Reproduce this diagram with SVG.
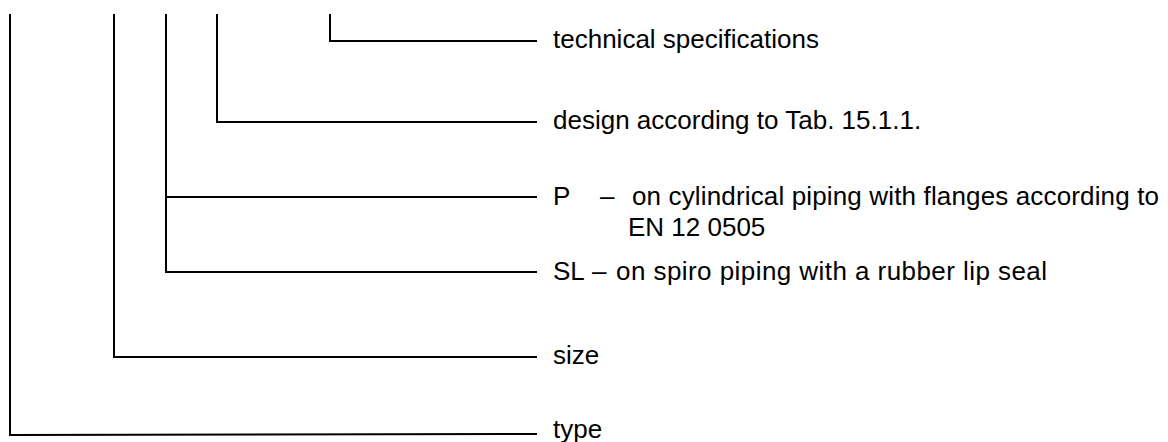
<svg xmlns="http://www.w3.org/2000/svg" width="1168" height="442" viewBox="0 0 1168 442">
<style>
.c{fill:none;stroke:#000;stroke-width:2}
text{font-family:"Liberation Sans",Arial,sans-serif;font-size:26px;fill:#000}
</style>
<rect width="1168" height="442" fill="#fff"/>
<g id="connectors">
<polyline class="c" points="10,14 10,435 537,434"/>
<polyline class="c" points="114,14 114,357 537,357"/>
<polyline class="c" points="166,14 166,272 537,272"/>
<line class="c" x1="166" y1="197" x2="537" y2="197"/>
<polyline class="c" points="217,14 217,122 537,122"/>
<polyline class="c" points="330,14 330,41 537,41"/>
</g>
<g id="tech"><text x="553" y="48">technical specifications</text></g>
<g id="design"><text x="553" y="129">design according to Tab. 15.1.1.</text></g>
<g id="p"><text x="553" y="205">P</text><text x="600" y="205">–</text><text x="632" y="205" textLength="527" lengthAdjust="spacing">on cylindrical piping with flanges according to</text><text x="628" y="236">EN 12 0505</text></g>
<g id="sl"><text x="553" y="280">SL</text><text x="592" y="280">–</text><text x="616" y="280" textLength="431" lengthAdjust="spacing">on spiro piping with a rubber lip seal</text></g>
<g id="size"><text x="553" y="364">size</text></g>
<g id="type"><text x="553" y="438">type</text></g>
</svg>
